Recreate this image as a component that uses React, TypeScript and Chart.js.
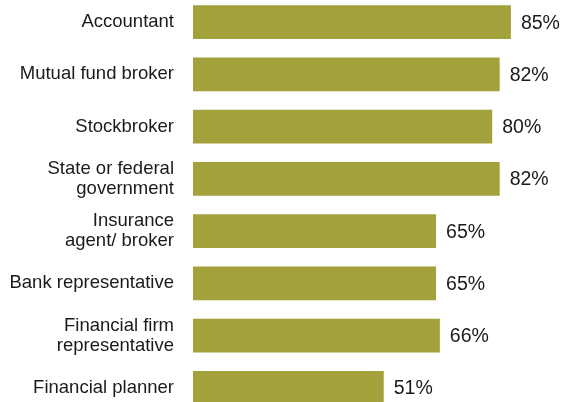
import React, { useEffect, useRef } from "react";
import { Chart, registerables } from "chart.js";

Chart.register(...registerables);

const categories: (string | string[])[] = [
  "Accountant",
  "Mutual fund broker",
  "Stockbroker",
  ["State or federal", "government"],
  ["Insurance", "agent/ broker"],
  "Bank representative",
  ["Financial firm", "representative"],
  "Financial planner",
];
const values: number[] = [85, 82, 80, 82, 65, 65, 66, 51];
const valueLabels: string[] = ["85%", "82%", "80%", "82%", "65%", "65%", "66%", "51%"];

const BAR_COLOR = "#a2a13b";
const TEXT_COLOR = "#1a1a1a";
const FONT_FAMILY = "'Liberation Sans', Arial, sans-serif";

const valueLabelPlugin = {
  id: "valueLabels",
  afterDatasetsDraw(chart: any) {
    const ctx = chart.ctx;
    const meta = chart.getDatasetMeta(0);
    ctx.save();
    ctx.fillStyle = TEXT_COLOR;
    ctx.font = `19.5px ${FONT_FAMILY}`;
    ctx.textAlign = "left";
    ctx.textBaseline = "middle";
    meta.data.forEach((bar: any, i: number) => {
      ctx.fillText(valueLabels[i], bar.x + 10, bar.y + 1);
    });
    ctx.restore();
  },
};

export default function App() {
  const canvasRef = useRef<HTMLCanvasElement | null>(null);

  useEffect(() => {
    if (!canvasRef.current) return;
    const chart = new Chart(canvasRef.current, {
      type: "bar",
      data: {
        labels: categories,
        datasets: [
          {
            data: values,
            backgroundColor: BAR_COLOR,
            borderWidth: 0,
            categoryPercentage: 1,
            barPercentage: 0.65,
          },
        ],
      },
      options: {
        indexAxis: "y",
        animation: false,
        responsive: false,
        maintainAspectRatio: false,
        devicePixelRatio: 1,
        layout: { padding: { top: 0, bottom: 0, left: 0, right: 1 } },
        plugins: {
          legend: { display: false },
          tooltip: { enabled: false },
        },
        scales: {
          x: {
            display: false,
            min: 0,
            max: 100,
          },
          y: {
            grid: { display: false, drawTicks: false },
            border: { display: false },
            ticks: {
              color: TEXT_COLOR,
              font: { family: FONT_FAMILY, size: 18.5, lineHeight: 1.1 },
              padding: 19,
              autoSkip: false,
            },
            afterFit(scale: any) {
              scale.width = 193;
              scale.paddingTop = 0;
              scale.paddingBottom = 0;
            },
          },
        },
      },
      plugins: [valueLabelPlugin],
    });
    return () => chart.destroy();
  }, []);

  return (
    <div
      style={{
        position: "fixed",
        left: 0,
        top: 0,
        width: 568,
        height: 402,
        overflow: "hidden",
        background: "#ffffff",
      }}
    >
      <canvas
        ref={canvasRef}
        width={568}
        height={418}
        style={{ position: "absolute", left: 0, top: -4, width: 568, height: 418 }}
      />
    </div>
  );
}
